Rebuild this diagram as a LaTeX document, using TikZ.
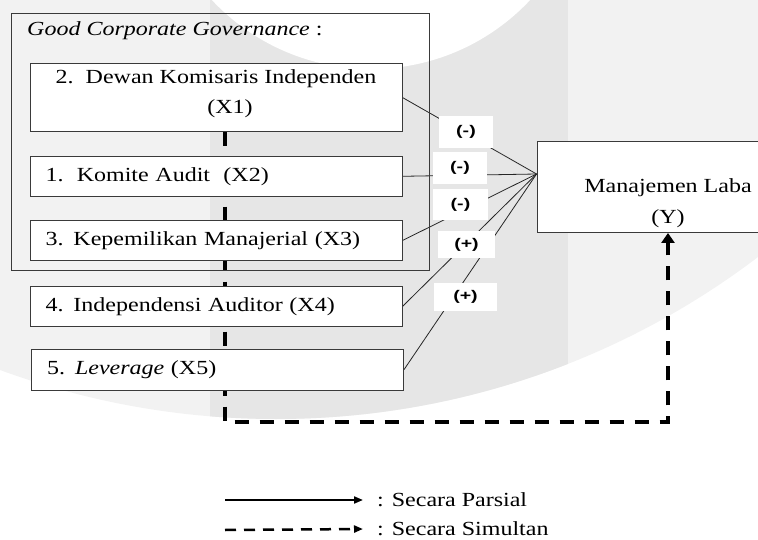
\documentclass[tikz,border=0pt]{standalone}
\usepackage{fontspec}
\setmainfont{Liberation Serif}[FakeStretch=1.2]
\newfontfamily\signfont{Liberation Sans}[FakeStretch=1.4]
\usetikzlibrary{arrows.meta}

\definecolor{wmlight}{HTML}{F2F2F2}
\definecolor{wmdark}{HTML}{E6E6E6}
\definecolor{rim}{HTML}{3A3A3A}

\newcommand{\bodysize}{\fontsize{20}{24}\selectfont}

\pgfdeclarelayer{wm}
\pgfdeclarelayer{under}
\pgfsetlayers{wm,under,main}

\tikzset{
  box/.style={draw=rim, line width=0.9pt, fill=white, rectangle, inner sep=0pt},
  varbox/.style={box, minimum width=372pt, minimum height=40.5pt, inner xsep=15.5pt, text width=341pt, align=left, font=\bodysize},
  plain/.style={inner sep=0pt, font=\bodysize},
  sign/.style={fill=white, inner sep=0pt, font=\signfont\bfseries\fontsize{14}{16}\selectfont},
  partial/.style={line width=0.8pt, draw=black!85},
  simul/.style={line width=4.5pt, dash pattern=on 14pt off 11pt, -{Triangle[length=10pt,width=13pt]}},
  legpart/.style={line width=2pt, -{Triangle[length=9pt,width=7pt]}},
  legsim/.style={line width=2.5pt, dash pattern=on 11pt off 8pt, -{Triangle[length=9pt,width=7pt]}},
}

\begin{document}
\begin{tikzpicture}[x=1pt, y=-1pt]
\useasboundingbox (0,0) rectangle (758,540);

% watermark behind everything
\begin{pgfonlayer}{wm}
  \begin{scope}
    \clip (276,-379) circle (798);
    \fill[wmlight] (0,0) rectangle (758,540);
    \fill[wmdark] (210,0) rectangle (568,540);
    \fill[white] (371,-149) circle (218);
  \end{scope}
\end{pgfonlayer}

% good corporate governance group
\node[draw=rim, line width=0.9pt, minimum width=418pt, minimum height=256.5pt, inner sep=0pt] (gcg) at (220.5,142) {};
\node[plain, anchor=base west] (gcgtitle) at (27,35.5) {\textit{Good Corporate Governance} :};

% independent variables
\node[varbox, minimum height=67.5pt] (dki) at (216,97.5) {};
\node[plain, anchor=base] (dkiname) at (216,83.3) {2.\ \ Dewan Komisaris Independen};
\node[plain, anchor=base] (dkicode) at (230,113.3) {(X1)};
\node[varbox] (kom) at (216,176.3) {1.\ \ Komite Audit\ \ (X2)};
\node[varbox] (kep) at (216,240.5) {3. Kepemilikan Manajerial (X3)};
\node[varbox] (ind) at (216,306.5) {4. Independensi Auditor (X4)};
\node[varbox] (lev) at (217.5,369.7) {5. \textit{Leverage} (X5)};

% dependent variable
\node[box, minimum width=262pt, minimum height=91pt] (laba) at (668,187) {};
\node[plain, anchor=base] (labaname) at (668,192.7) {Manajemen Laba};
\node[plain, anchor=base] (labacode) at (668,224) {(Y)};
\coordinate (hub) at ([yshift=13pt]laba.west);
\coordinate (bend) at (225,422);

% signs
\node[sign, minimum width=54pt, minimum height=32pt] (s1) at (466,132) {(-)};
\node[sign, minimum width=54pt, minimum height=31.5pt] (s2) at (460,168) {(-)};
\node[sign, minimum width=55pt, minimum height=31pt] (s3) at (460.5,204.5) {(-)};
\node[sign, minimum width=57pt, minimum height=27pt] (s4) at (466.5,244.5) {(+)};
\node[sign, minimum width=63pt, minimum height=28pt] (s5) at (465.5,297) {(+)};

\begin{pgfonlayer}{under}
  \foreach \v in {dki,kom,kep,ind,lev}
    \draw[partial] (\v.east) -- (hub);
  \draw[simul] ([xshift=9pt]dki.south) -- (bend) -| (laba.south);
\end{pgfonlayer}

% legend
\coordinate (leg1) at (225,500);
\coordinate (leg2) at (225,530);
\node[plain, anchor=west, inner xsep=14pt] (parsial) at (363,500) {: Secara Parsial};
\node[plain, anchor=west, inner xsep=14pt] (simultan) at (363,529) {: Secara Simultan};
\draw[legpart] (leg1) -- (parsial.west);
\draw[legsim] (leg2) -- (simultan.west);
\end{tikzpicture}
\end{document}
